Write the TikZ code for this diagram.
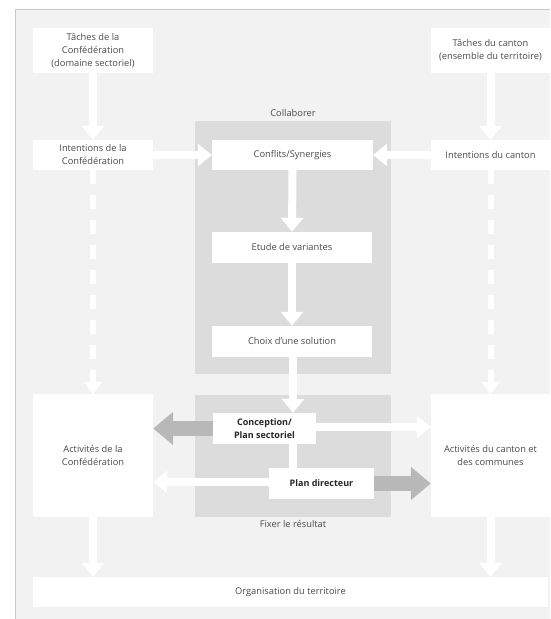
\documentclass[tikz,border=0pt]{standalone}
\usepackage{fontspec}
\setmainfont{Open Sans}
\usetikzlibrary{arrows.meta}
\definecolor{bgc}{HTML}{F2F2F2}
\definecolor{edgec}{HTML}{C8C8C8}
\definecolor{zonec}{HTML}{DCDCDC}
\definecolor{garrow}{HTML}{B8B8B8}
\definecolor{txtc}{HTML}{4A4A4A}
\tikzset{
  box/.style={fill=white, inner sep=0pt, align=center, text=txtc,
    font=\fontsize{9.3}{13}\selectfont},
  boldbox/.style={box, text=black!85, font=\fontsize{9}{12.5}\selectfont\bfseries},
  zone/.style={fill=zonec, draw=none},
  lbl/.style={text=txtc, font=\fontsize{9.3}{13}\selectfont, inner sep=0pt},
  warrow/.style={draw=white, line width=8pt, -{Triangle[width=22pt,length=14pt]}},
  wline/.style={draw=white, line width=8pt},
  darrow/.style={draw=white, line width=6pt, dash pattern=on 14pt off 11pt,
    -{Triangle[width=18pt,length=12pt]}},
  garrowstyle/.style={draw=garrow, line width=15pt, -{Triangle[width=32pt,length=20pt]}}
}
\begin{document}
\begin{tikzpicture}[x=1pt,y=-1pt]
\useasboundingbox (0,0) rectangle (550,619);
\fill[white] (0,0) rectangle (550,619);
\fill[bgc] (15,9) rectangle (550,619);
\draw[edgec, line width=0.8pt] (15,619) -- (15,9) -- (550,9);
% zones
\fill[zone] (195,121) rectangle (391,374);
\fill[zone] (195,395) rectangle (391,517);
\node[lbl] (collab) at (293,113) {Collaborer};
\node[lbl] (fixer) at (293,524) {Fixer le résultat};
% nodes
\node[box, minimum width=120pt, minimum height=45pt] (tc) at (93,50.5) {Tâches de la\\Confédération\\(domaine sectoriel)};
\node[box, minimum width=120pt, minimum height=30pt] (ic) at (93,155) {Intentions de la\\Confédération};
\node[box, minimum width=119pt, minimum height=45pt] (tk) at (490.5,50.5) {Tâches du canton\\(ensemble du territoire)};
\node[box, minimum width=119pt, minimum height=30pt] (ik) at (490.5,155) {Intentions du canton};
\node[box, minimum width=161pt, minimum height=30pt] (cs) at (292.5,155) {Conflits/Synergies};
\node[box, minimum width=160pt, minimum height=31pt] (ev) at (292,247.5) {Etude de variantes};
\node[box, minimum width=160pt, minimum height=31pt] (ch) at (292,341.5) {Choix d’une solution};
\node[boldbox, minimum width=103pt, minimum height=31pt] (cp) at (264.5,428.5) {Conception/\\Plan sectoriel};
\node[boldbox, minimum width=105pt, minimum height=31pt] (pd) at (321.5,483.5) {Plan directeur};
\node[box, minimum width=120pt, minimum height=123pt] (ac) at (93,455.5) {Activités de la\\Confédération};
\node[box, minimum width=119pt, minimum height=123pt] (ak) at (490.5,455.5) {Activités du canton et\\des communes};
\node[box, minimum width=515pt, minimum height=30pt] (og) at (290.5,592) {Organisation du territoire};
% connectors
\draw[warrow] (tc.south) -- (ic.north);
\draw[warrow] (tk.south) -- (ik.north);
\draw[warrow] (ic.east) -- (cs.west);
\draw[warrow] (ik.west) -- (cs.east);
\draw[warrow] (cs.south) -- (ev.north);
\draw[warrow] (ev.south) -- (ch.north);
\draw[warrow] ([xshift=1pt]ch.south) -- ([xshift=1pt]ch.south |- cp.north);
\draw[wline] ([xshift=1pt]ch.south |- cp.south) -- ([xshift=1pt]ch.south |- pd.north);
\draw[darrow] (ic.south) -- (ac.north);
\draw[darrow] (ik.south) -- (ak.north);
\draw[garrowstyle] (cp.west) -- (cp.west -| ac.east);
\draw[warrow] ([yshift=1.5pt]cp.east) -- ([yshift=1.5pt]cp.east -| ak.west);
\draw[warrow] ([yshift=1.5pt]pd.west) -- ([yshift=1.5pt]pd.west -| ac.east);
\draw[garrowstyle] (pd.east) -- (pd.east -| ak.west);
\draw[warrow] (ac.south) -- (ac.south |- og.north);
\draw[warrow] (ak.south) -- (ak.south |- og.north);
\end{tikzpicture}
\end{document}
